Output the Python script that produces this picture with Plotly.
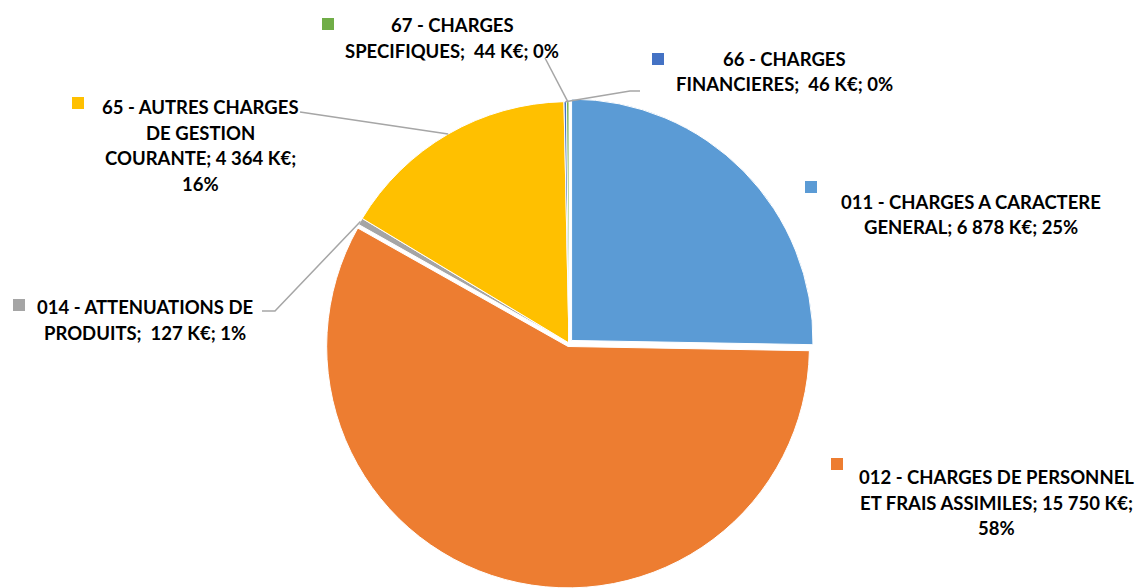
import math
import plotly.graph_objects as go

# ---------------- data ----------------
categories = [
    "011 - CHARGES A CARACTERE GENERAL",
    "012 - CHARGES DE PERSONNEL ET FRAIS ASSIMILES",
    "014 - ATTENUATIONS DE PRODUITS",
    "65 - AUTRES CHARGES DE GESTION COURANTE",
    "66 - CHARGES FINANCIERES",
    "67 - CHARGES SPECIFIQUES",
]
values_keur = [6878, 15750, 127, 4364, 46, 44]
percent_labels = ["25%", "58%", "1%", "16%", "0%", "0%"]
colors = ["#5B9BD5", "#ED7D31", "#A5A5A5", "#FFC000", "#4472C4", "#70AD47"]

# label line layouts ({v} = value, {p} = percent)
label_templates = [
    ["011 - CHARGES A CARACTERE", "GENERAL; {v} K€; {p}"],
    ["012 - CHARGES DE PERSONNEL", "ET FRAIS ASSIMILES; {v} K€;", "{p}"],
    ["014 - ATTENUATIONS DE", "PRODUITS;\u00a0 {v} K€; {p}"],
    ["65 - AUTRES CHARGES", "DE GESTION", "COURANTE; {v} K€;", "{p}"],
    ["66 - CHARGES", "FINANCIERES;\u00a0 {v} K€; {p}"],
    ["67 - CHARGES", "SPECIFIQUES;\u00a0 {v} K€; {p}"],
]

# ---------------- layout constants ----------------
W, H = 1138, 588
CX, CY = 569, 343          # pie centre in pixels
BOX_HALF = 245             # half size of pie domain box
PULL = [0.015, 0.015, 0, 0, 0, 0]
R = BOX_HALF / (1 + max(PULL))

label_pos = [(971, 202), (996, 477), (145, 307), (200, 107), (784, 59), (452, 25)]
key_pos = [(805, 181), (831, 458), (13, 299), (72, 97), (652, 53), (322, 18)]
LINE_STEP = 25.5
KEY = 12
FONT = dict(family="Lato, 'Open Sans', sans-serif", size=18.5, color="#000000", weight="bold")

def fmt(v):
    return f"{v:,}".replace(",", " ")

def px(x, y):
    return x / W, 1 - y / H

fig = go.Figure(go.Pie(
    labels=categories,
    values=values_keur,
    sort=False,
    direction="clockwise",
    rotation=0,
    pull=PULL,
    marker=dict(colors=colors, line=dict(color="white", width=1)),
    textinfo="none",
    hoverinfo="label+value+percent",
    domain=dict(x=[(CX - BOX_HALF) / W, (CX + BOX_HALF) / W],
                y=[(H - CY - BOX_HALF) / H, (H - CY + BOX_HALF) / H]),
    showlegend=False,
))

# edge points of slices (computed from data)
total = sum(values_keur)
edge = []
cum = 0
for i, v in enumerate(values_keur):
    th = 2 * math.pi * (cum + v / 2) / total
    rr = R * (1 + PULL[i])
    edge.append((CX + rr * math.sin(th), CY - rr * math.cos(th)))
    cum += v

annotations = []
shapes = []
for i, tmpl in enumerate(label_templates):
    lx, ly = label_pos[i]
    for k, line in enumerate(tmpl):
        t = line.format(v=fmt(values_keur[i]), p=percent_labels[i])
        x, y = px(lx, ly + k * LINE_STEP)
        annotations.append(dict(x=x, y=y, xref="paper", yref="paper", text=t,
                                showarrow=False, xanchor="center", yanchor="middle",
                                font=FONT))
    kx, ky = key_pos[i]
    x0, y1 = px(kx, ky)
    x1, y0 = px(kx + KEY, ky + KEY)
    shapes.append(dict(type="rect", xref="paper", yref="paper", x0=x0, x1=x1, y0=y0, y1=y1,
                       fillcolor=colors[i], line=dict(width=0)))

# leader lines: label-side points (layout) -> slice edge (data)
leaders = {
    2: [(262, 311), (275, 311)],
    3: [(300, 112)],
    4: [(640, 91), (630, 91)],
    5: [(545, 58)],
}
for i, pts in leaders.items():
    allpts = pts + [edge[i]]
    path = "M " + " L ".join(f"{px(x, y)[0]:.5f},{px(x, y)[1]:.5f}" for x, y in allpts)
    shapes.append(dict(type="path", xref="paper", yref="paper", path=path,
                       line=dict(color="#A6A6A6", width=1.5)))

fig.update_layout(
    width=W, height=H,
    margin=dict(l=0, r=0, t=0, b=0),
    paper_bgcolor="white", plot_bgcolor="white",
    annotations=annotations, shapes=shapes,
)

fig.write_html("out.html", config={"displayModeBar": False},
               post_script="document.body.style.margin='0';")
